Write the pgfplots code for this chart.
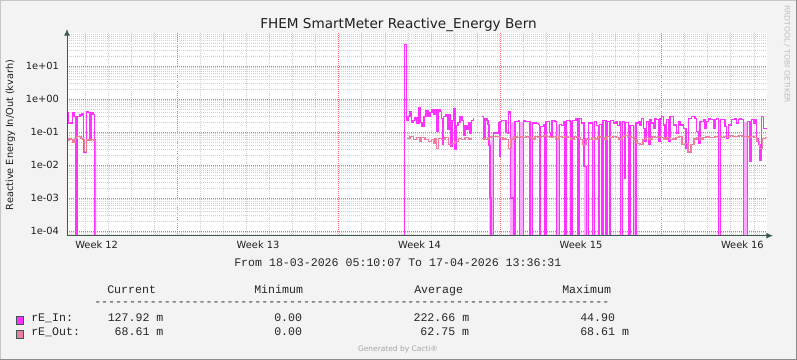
\documentclass[border=0pt]{standalone}
\usepackage{fontspec}
\setmainfont{DejaVu Sans}
\newfontfamily\monof{Liberation Mono}
\usepackage{pgfplots}
\usepackage{pgfplotstable}
\pgfplotsset{compat=1.18}
\usetikzlibrary{arrows.meta}
\definecolor{bg}{HTML}{F3F3F3}
\definecolor{rein}{HTML}{FF33FF}
\definecolor{reinlight}{HTML}{FFA8FF}
\definecolor{reout}{HTML}{EC7FA0}
\definecolor{axcol}{HTML}{3B5B52}
\definecolor{mgrid}{HTML}{F27070}
\definecolor{mingrid}{HTML}{CFCFCF}

\pgfplotstableread{
x y
0 0.39
0.065 0.18
0.173 0.19
0.238 0.39
0.304 0.30
0.390 1e-6
0.455 0.30
0.564 0.33
0.650 0.36
0.715 0.025
0.846 0.42
0.911 0.40
0.976 0.06
1.041 0.40
1.127 0.35
1.192 0.06
1.214 1e-6
1.279 nan
14.569 1e-6
14.634 44.9
14.721 0.23
14.786 0.30
14.872 0.42
14.937 0.20
15.003 0.22
15.089 0.27
15.176 0.19
15.263 0.54
15.328 0.20
15.393 0.146
15.480 0.30
15.566 0.45
15.653 0.30
15.740 0.40
15.827 0.47
15.913 0.35
15.978 0.47
16.043 0.104
16.108 0.47
16.173 0.42
16.238 0.26
16.282 0.041
16.325 0.30
16.434 0.33
16.520 0.12
16.564 0.33
16.629 0.036
16.694 0.22
16.780 0.53
16.824 0.03
16.889 0.16
16.954 0.20
17.040 0.30
17.127 0.22
17.192 0.08
17.257 0.16
17.344 0.12
17.409 0.20
17.474 0.09
17.539 0.23
17.617 0.26
17.669 nan
17.995 0.30
18.060 0.06
18.125 0.25
18.212 0.23
18.255 0.17
18.298 0.04
18.342 0.001
18.385 1e-6
18.485 0.094
18.701 0.19
18.745 0.018
18.775 0.21
18.849 0.23
19.035 0.10
19.092 0.09
19.135 0.42
19.209 0.36
19.239 0.001
19.352 1e-6
19.425 0.21
19.569 0.23
19.612 1e-6
19.785 0.23
19.859 0.21
20.076 1e-6
20.193 0.19
20.366 0.18
20.436 0.17
20.479 1e-6
20.540 0.15
20.653 0.17
20.726 1e-6
20.770 0.21
20.913 0.10
20.974 0.07
21.030 0.22
21.160 0.21
21.234 1e-6
21.346 0.17
21.450 0.16
21.520 0.21
21.593 1e-6
21.667 0.23
21.810 0.21
21.853 1e-6
21.927 0.23
22.070 0.26
22.126 1e-6
22.200 0.26
22.317 0.19
22.417 0.009
22.534 1e-6
22.603 0.19
22.794 1e-6
22.863 0.21
22.967 0.155
23.037 1e-6
23.098 0.17
23.184 1e-6
23.241 0.23
23.371 1e-6
23.427 0.21
23.514 1e-6
23.575 0.23
23.688 0.19
23.805 0.21
23.861 0.155
23.948 0.21
24.009 1e-6
24.095 0.21
24.165 0.004
24.226 0.20
24.338 1e-6
24.412 0.155
24.555 1e-6
24.672 0.19
24.772 0.21
24.845 0.165
24.919 0.26
24.989 0.13
25.062 0.051
25.136 0.21
25.205 0.041
25.279 0.235
25.353 0.19
25.422 0.13
25.496 0.26
25.570 0.235
25.639 0.051
25.713 0.26
25.786 0.30
25.856 0.165
25.929 0.065
26.003 0.235
26.072 0.051
26.146 0.30
26.289 0.165
26.436 0.093
26.506 0.21
26.580 0.165
26.723 0.13
26.840 0.032
26.940 0.26
27.087 0.30
27.230 0.26
27.304 0.104
27.373 0.046
27.447 0.21
27.590 0.235
27.664 0.13
27.737 0.21
27.807 0.26
27.880 0.235
28.023 0.13
28.097 0.235
28.171 0.26
28.240 1e-6
28.344 0.235
28.531 0.147
28.604 0.065
28.674 0.165
28.821 0.235
28.964 0.26
29.038 0.19
29.107 0.235
29.181 0.26
29.255 0.235
29.324 1e-6
29.498 0.21
29.615 0.013
29.689 0.235
29.758 0.19
29.832 0.235
29.906 0.065
29.975 0.041
30.049 0.014
30.122 0.30
30.192 0.13
30.265 0.128
30.352 0.128
}\rEin

% intervals where rE_In is at zero (drawn as light bands)
\pgfplotstableread{
x y
0.390 1e-6
0.390 0.30
0.455 0.30
0.455 1e-6
nan nan
1.192 1e-6
1.192 0.06
1.279 0.06
1.279 1e-6
nan nan
18.298 1e-6
18.298 0.04
18.485 0.094
18.485 1e-6
nan nan
19.209 1e-6
19.209 0.2
19.425 0.2
19.425 1e-6
nan nan
19.612 1e-6
19.612 0.2
19.785 0.2
19.785 1e-6
nan nan
20.076 1e-6
20.076 0.19
20.193 0.19
20.193 1e-6
nan nan
20.479 1e-6
20.479 0.15
20.540 0.15
20.540 1e-6
nan nan
20.726 1e-6
20.726 0.17
20.770 0.17
20.770 1e-6
nan nan
21.234 1e-6
21.234 0.17
21.346 0.17
21.346 1e-6
nan nan
21.593 1e-6
21.593 0.2
21.667 0.2
21.667 1e-6
nan nan
21.853 1e-6
21.853 0.2
21.927 0.2
21.927 1e-6
nan nan
22.126 1e-6
22.126 0.2
22.200 0.2
22.200 1e-6
nan nan
22.417 1e-6
22.417 0.009
22.603 0.009
22.603 1e-6
nan nan
22.794 1e-6
22.794 0.19
22.863 0.19
22.863 1e-6
nan nan
23.037 1e-6
23.037 0.155
23.098 0.155
23.098 1e-6
nan nan
23.184 1e-6
23.184 0.17
23.241 0.17
23.241 1e-6
nan nan
23.371 1e-6
23.371 0.2
23.427 0.2
23.427 1e-6
nan nan
23.514 1e-6
23.514 0.2
23.575 0.2
23.575 1e-6
nan nan
24.009 1e-6
24.009 0.2
24.095 0.2
24.095 1e-6
nan nan
24.338 1e-6
24.338 0.155
24.412 0.155
24.412 1e-6
nan nan
24.555 1e-6
24.555 0.155
24.672 0.155
24.672 1e-6
nan nan
28.240 1e-6
28.240 0.235
28.344 0.235
28.344 1e-6
nan nan
29.324 1e-6
29.324 0.2
29.498 0.2
29.498 1e-6
}\rEdrops

\pgfplotstableread{
x y
0 0.055
0.087 0.062
0.173 0.058
0.260 0.05
0.347 0.065
0.434 0.075
0.520 0.072
0.607 0.065
0.694 0.060
0.759 0.026
0.846 0.058
0.911 0.055
1.041 0.058
1.171 0.055
1.236 1e-6
1.279 nan
14.730 0.065
14.872 0.075
15.015 0.058
15.163 0.068
15.306 0.051
15.380 0.068
15.523 0.058
15.666 0.051
15.813 0.058
15.883 0.046
15.956 0.065
16.030 0.032
16.099 0.065
16.247 0.058
16.390 0.068
16.533 0.041
16.681 0.046
16.824 0.051
16.967 0.065
17.114 0.058
17.257 0.068
17.400 0.062
17.548 0.068
17.669 nan
17.995 0.065
18.125 0.058
18.255 0.068
18.385 0.075
18.515 0.075
18.645 0.072
18.775 0.068
18.905 0.062
19.035 0.058
19.144 0.032
19.252 0.062
19.382 0.072
19.512 0.068
19.642 0.072
19.772 0.068
19.902 0.072
20.032 0.068
20.162 0.062
20.293 0.072
20.423 0.068
20.553 0.072
20.683 0.078
20.813 0.072
20.943 0.068
21.073 0.072
21.203 0.062
21.333 0.072
21.463 0.068
21.593 0.072
21.723 0.068
21.853 0.062
21.983 0.072
22.113 0.068
22.243 0.058
22.374 0.041
22.504 0.062
22.634 0.058
22.764 0.068
22.894 0.062
23.024 0.072
23.154 0.068
23.284 0.062
23.414 0.072
23.544 0.068
23.674 0.072
23.804 0.068
23.934 0.062
24.064 0.072
24.195 0.078
24.325 0.072
24.455 0.068
24.585 0.058
24.715 0.046
24.845 0.041
24.975 0.058
25.105 0.068
25.235 0.062
25.365 0.072
25.495 0.068
25.625 0.072
25.755 0.068
25.885 0.062
26.016 0.068
26.146 0.058
26.276 0.062
26.406 0.068
26.536 0.072
26.666 0.041
26.796 0.046
26.926 0.025
27.056 0.041
27.186 0.062
27.316 0.068
27.447 0.062
27.577 0.068
27.707 0.072
27.837 0.068
27.967 0.068
28.097 0.072
28.227 0.072
28.357 0.068
28.487 0.072
28.617 0.072
28.747 0.078
28.877 0.072
29.007 0.072
29.137 0.078
29.267 0.072
29.398 0.072
29.528 0.068
29.658 0.072
29.788 0.068
29.918 0.051
30.026 0.032
30.156 0.065
30.286 0.069
30.352 0.069
}\rEout

\begin{document}
\begin{tikzpicture}[x=0.75pt,y=0.75pt]
\path[use as bounding box] (0,0) rectangle (797,360);
\fill[bg] (0,0) rectangle (797,360);
\draw[color=black!22, line width=0.75pt] (0.5,0.5) rectangle (796.5,359.5);
\draw[color=black!45, line width=0.75pt] (0.5,0.5) -- (796.5,0.5) -- (796.5,359.5);
\coordinate (axpos) at (67,124.3);
\begin{axis}[
  at={(axpos)}, anchor=south west,
  scale only axis, width=525pt, height=151.8pt,
  xmin=0, xmax=30.352,
  ymode=log, ymin=7.2e-5, ymax=100,
  axis background/.style={fill=white},
  axis line style={draw=none},
  grid=both,
  major grid style={draw=mgrid, dash pattern=on 0.75pt off 0.75pt, line width=0.7pt},
  minor grid style={draw=mingrid, dash pattern=on 0.75pt off 0.75pt, line width=0.6pt},
  major tick length=0pt, minor tick length=0pt,
  xtick={4.785,11.785,18.785,25.785},
  xticklabels={,,,},
  minor xtick={0.785,1.785,2.785,3.785,5.785,6.785,7.785,8.785,9.785,10.785,12.785,13.785,14.785,15.785,16.785,17.785,19.785,20.785,21.785,22.785,23.785,24.785,26.785,27.785,28.785,29.785},
  extra x ticks={1.285,8.285,15.285,22.285,29.285},
  extra x tick labels={Week 12,Week 13,Week 14,Week 15,Week 16},
  extra x tick style={grid=none,
     xticklabel style={anchor=base, yshift=-9.6pt}},
  ytick={1e-4,1e-3,1e-2,1e-1,1,10},
  yticklabels={1e-04,1e-03,1e-02,1e-01,1e+00,1e+01},
  minor ytick={8e-5,9e-5,
    2e-4,3e-4,4e-4,5e-4,6e-4,7e-4,8e-4,9e-4,
    2e-3,3e-3,4e-3,5e-3,6e-3,7e-3,8e-3,9e-3,
    2e-2,3e-2,4e-2,5e-2,6e-2,7e-2,8e-2,9e-2,
    2e-1,3e-1,4e-1,5e-1,6e-1,7e-1,8e-1,9e-1,
    2,3,4,5,6,7,8,9,
    20,30,40,50,60,70,80,90},
  xticklabel style={font=\fontsize{7.4}{8}\selectfont, text=black!88},
  yticklabel style={font=\fontsize{7.4}{8}\selectfont, text=black!88, anchor=east, inner sep=0pt, xshift=-5.8pt},
  unbounded coords=jump,
]
\addplot[fill=reinlight, draw=none] table[x=x,y=y] {\rEdrops};
\addplot[rein, line width=0.85pt, const plot] table[x=x,y=y] {\rEin};
\addplot[reout, line width=0.8pt, const plot] table[x=x,y=y] {\rEout};
\end{axis}
\draw[axcol, line width=0.75pt, -{Latex[length=5pt,width=4.5pt]}] (67,124.3) -- (67,331);
\draw[axcol, line width=0.75pt, -{Latex[length=5pt,width=4.5pt]}] (67,124.3) -- (773,124.3);

\node[anchor=base, font=\fontsize{10.2}{12}\selectfont, text=black!88] at (398.5,331.7) {FHEM SmartMeter Reactive\_Energy Bern};
\node[rotate=90, font=\fontsize{7.3}{9}\selectfont, text=black!88] at (10.5,225) {Reactive Energy In/Out (kvarh)};
\node[rotate=-90, anchor=west, inner sep=0pt, font=\fontsize{5.7}{7}\selectfont, text=black!25] at (787,355) {RRDTOOL / TOBI OETIKER};

\begin{scope}[every node/.style={anchor=base west, inner sep=0pt, font=\monof\fontsize{8.7}{10}\selectfont, text=black!85}]
\node at (234,93.3) {From 18-03-2026 05:10:07 To 17-04-2026 13:36:31};
\node at (107,66) {Current};
\node at (254,66) {Minimum};
\node at (414,66) {Average};
\node at (562,66) {Maximum};
\node at (94,54) {--------------------------------------------------------------------------};
\node at (31,38) {rE\_In:};
\node at (107.5,38) {127.92 m};
\node at (274,38) {0.00};
\node at (413.3,38) {222.66 m};
\node at (580,38) {44.90};
\node at (31,24) {rE\_Out:};
\node at (114.4,24) {68.61 m};
\node at (274,24) {0.00};
\node at (420.2,24) {62.75 m};
\node at (580,24) {68.61 m};
\end{scope}
\filldraw[fill=rein, draw=axcol, line width=0.75pt] (16.5,35.5) rectangle (23.5,43.5);
\filldraw[fill=reout, draw=axcol, line width=0.75pt] (16.5,21.7) rectangle (23.5,29.7);
\node[anchor=base, font=\fontsize{5.6}{7}\selectfont, text=black!35] at (398,8.5) {Generated by Cacti®};
\end{tikzpicture}
\end{document}
